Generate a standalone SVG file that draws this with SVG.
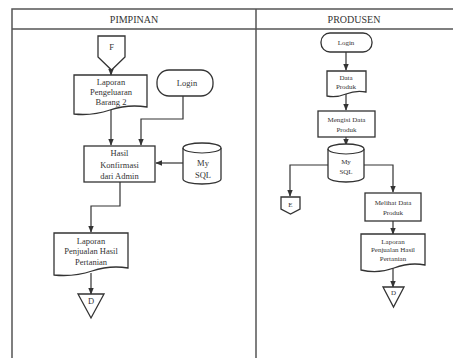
<svg xmlns="http://www.w3.org/2000/svg" width="453" height="358" viewBox="0 0 453 358">
<defs>
<marker id="ah" viewBox="0 0 10 10" refX="9" refY="5" markerWidth="6" markerHeight="6" orient="auto">
<path d="M0,1 L10,5 L0,9 z" fill="#333"/>
</marker>
<style>
.frame{fill:none;stroke:#555;stroke-width:1.5}
.shape{fill:#fff;stroke:#333;stroke-width:1.3}
.conn{fill:none;stroke:#333;stroke-width:1.2;marker-end:url(#ah)}
.line{fill:none;stroke:#333;stroke-width:1.2}
text{font-family:"Liberation Serif","Times New Roman",serif;fill:#333;text-anchor:middle}
.hd{font-size:10px}
.t{font-size:8.5px}
.s{font-size:7px}
</style>
</defs>
<rect width="453" height="358" fill="#fff"/>
<g id="frame">
<path class="frame" d="M12,360 V9 H455 M12,29 H455 M256,9 V360"/>
<text class="hd" x="134" y="23">PIMPINAN</text>
<text class="hd" x="354" y="23">PRODUSEN</text>
</g>
<g id="connectors">
<path class="conn" d="M111,70 V75"/>
<path class="conn" d="M111,110 V145"/>
<path class="conn" d="M183,95 V119 H141 V145"/>
<path class="conn" d="M183,163 H156"/>
<path class="conn" d="M120,182 V206 H91 V232"/>
<path class="conn" d="M91,273 V294"/>
<path class="conn" d="M346,52 V70"/>
<path class="conn" d="M346,94 V110"/>
<path class="conn" d="M346,137 V145"/>
<path class="conn" d="M328,165 H290 V196"/>
<path class="conn" d="M364,165 H393 V192"/>
<path class="conn" d="M393,221 V234"/>
<path class="conn" d="M393,268 V287"/>
</g>
<g id="F">
<path class="shape" d="M98,36 H125 V57 L111.5,70 L98,57 Z"/>
<text class="t" x="111.5" y="50">F</text>
</g>
<g id="laporan-pengeluaran">
<path class="shape" d="M74,75 H147 V107 Q128,104 110,110 T74,114 Z"/>
<text class="t" x="111" y="85">Laporan</text>
<text class="t" x="111" y="95">Pengeluaran</text>
<text class="t" x="111" y="105">Barang 2</text>
</g>
<g id="login-pimpinan">
<rect class="shape" x="157" y="70" width="56" height="26" rx="12"/>
<text class="t" x="187" y="86">Login</text>
</g>
<g id="hasil-konfirmasi">
<rect class="shape" x="84" y="146" width="71" height="36"/>
<text class="t" x="119.5" y="156">Hasil</text>
<text class="t" x="119.5" y="168">Konfirmasi</text>
<text class="t" x="119.5" y="179">dari Admin</text>
</g>
<g id="mysql-pimpinan">
<path class="shape" d="M183,148 V179 A19,5 0 0 0 221,179 V148 A19,5 0 0 0 183,148 Z"/>
<path class="line" d="M183,148 A19,5 0 0 0 221,148"/>
<text class="t" x="203" y="166">My</text>
<text class="t" x="203" y="178">SQL</text>
</g>
<g id="laporan-penjualan-pimpinan">
<path class="shape" d="M54,233 H128 V268 Q110,265 92,271 T54,275 Z"/>
<text class="t" x="91" y="244">Laporan</text>
<text class="t" x="91" y="254">Penjualan Hasil</text>
<text class="t" x="91" y="265">Pertanian</text>
</g>
<g id="D-pimpinan">
<path class="shape" d="M78,294 H104 L91,318 Z"/>
<text class="t" x="91" y="304">D</text>
</g>
<g id="login-produsen">
<rect class="shape" x="321" y="33" width="51" height="19" rx="9"/>
<text class="s" x="346" y="45">Login</text>
</g>
<g id="data-produk">
<path class="shape" d="M327,71 H366 V92 Q356,90 346,94 T327,96 Z"/>
<text class="s" x="346" y="80">Data</text>
<text class="s" x="346" y="89">Produk</text>
</g>
<g id="mengisi-data-produk">
<rect class="shape" x="318" y="111" width="57" height="26"/>
<text class="s" x="346.5" y="122">Mengisi Data</text>
<text class="s" x="346.5" y="132">Produk</text>
</g>
<g id="mysql-produsen">
<path class="shape" d="M328,149 V177 A18,5 0 0 0 364,177 V149 A18,5 0 0 0 328,149 Z"/>
<path class="line" d="M328,149 A18,5 0 0 0 364,149"/>
<text class="s" x="346" y="164">My</text>
<text class="s" x="346" y="174">SQL</text>
</g>
<g id="E">
<path class="shape" d="M281,197 H300 V209 L290.5,214 L281,209 Z"/>
<text class="s" x="290.5" y="207">E</text>
</g>
<g id="melihat-data-produk">
<rect class="shape" x="365" y="193" width="56" height="28"/>
<text class="s" x="393" y="205">Melihat Data</text>
<text class="s" x="393" y="215">Produk</text>
</g>
<g id="laporan-penjualan-produsen">
<path class="shape" d="M361,234 H425 V265 Q410,262 394,268 T361,270 Z"/>
<text class="s" x="393" y="244">Laporan</text>
<text class="s" x="393" y="252">Penjualan Hasil</text>
<text class="s" x="393" y="261">Pertanian</text>
</g>
<g id="D-produsen">
<path class="shape" d="M383,287 H404 L393.5,307 Z"/>
<text class="s" x="393.5" y="295">D</text>
</g>
</svg>
